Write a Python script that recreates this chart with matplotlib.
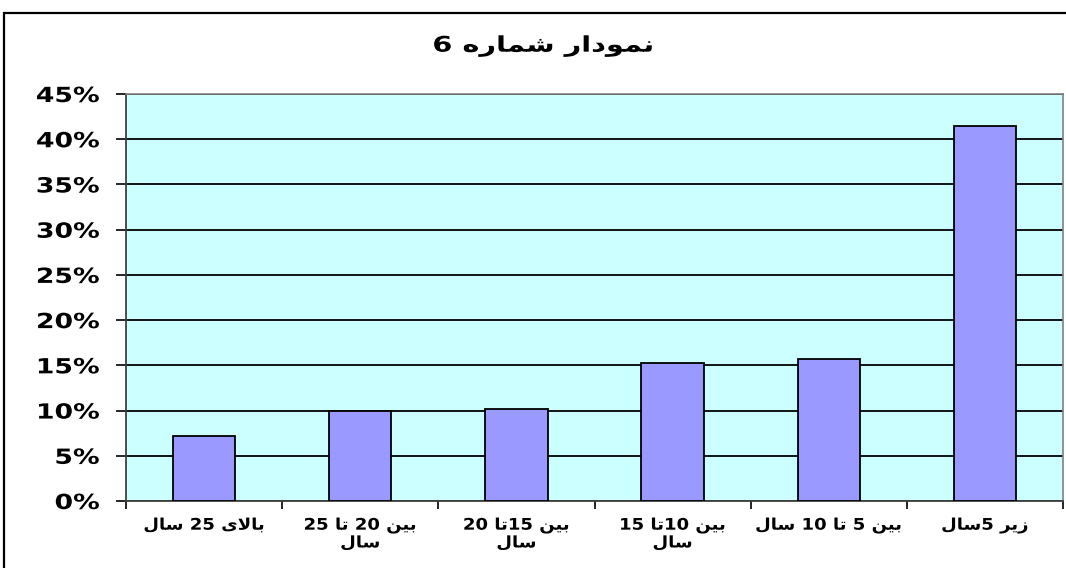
import re
import matplotlib
matplotlib.use("Agg")
import matplotlib.pyplot as plt
from matplotlib.patches import Rectangle
from matplotlib.patheffects import AbstractPathEffect
from matplotlib.transforms import Affine2D
import numpy as np

# chart data (logical Persian text, values in %)
title = "نمودار شماره 6"
categories = ["بالای 25 سال", "بین 20 تا 25\nسال", "بین 15تا 20\nسال",
              "بین 10تا 15\nسال", "بین 5 تا 10 سال", "زیر 5سال"]
values = [7.2, 9.9, 10.2, 15.3, 15.7, 41.5]
yticks = [0, 5, 10, 15, 20, 25, 30, 35, 40, 45]

# minimal Arabic/Persian shaping: presentation forms (iso, fin, ini, med)
FORMS = {
    'ا': ('\uFE8D', '\uFE8E', None, None),
    'ب': ('\uFE8F', '\uFE90', '\uFE91', '\uFE92'),
    'ت': ('\uFE95', '\uFE96', '\uFE97', '\uFE98'),
    'د': ('\uFEA9', '\uFEAA', None, None),
    'ر': ('\uFEAD', '\uFEAE', None, None),
    'ز': ('\uFEAF', '\uFEB0', None, None),
    'س': ('\uFEB1', '\uFEB2', '\uFEB3', '\uFEB4'),
    'ش': ('\uFEB5', '\uFEB6', '\uFEB7', '\uFEB8'),
    'ل': ('\uFEDD', '\uFEDE', '\uFEDF', '\uFEE0'),
    'م': ('\uFEE1', '\uFEE2', '\uFEE3', '\uFEE4'),
    'ن': ('\uFEE5', '\uFEE6', '\uFEE7', '\uFEE8'),
    'ه': ('\uFEE9', '\uFEEA', '\uFEEB', '\uFEEC'),
    'و': ('\uFEED', '\uFEEE', None, None),
    'ی': ('\uFBFC', '\uFBFD', '\uFBFE', '\uFBFF'),
}


def shape_line(s):
    out = []
    i, n = 0, len(s)
    while i < n:
        c = s[i]
        if c not in FORMS:
            out.append(c)
            i += 1
            continue
        prev = s[i - 1] if i > 0 else ''
        joins_prev = prev in FORMS and FORMS[prev][2] is not None
        if c == 'ل' and i + 1 < n and s[i + 1] == 'ا':
            out.append('\uFEFC' if joins_prev else '\uFEFB')
            i += 2
            continue
        nxt = s[i + 1] if i + 1 < n else ''
        joins_next = FORMS[c][2] is not None and nxt in FORMS
        iso, fin, ini, med = FORMS[c]
        if joins_prev and joins_next:
            out.append(med)
        elif joins_prev:
            out.append(fin)
        elif joins_next:
            out.append(ini)
        else:
            out.append(iso)
        i += 1
    tokens = re.findall(r'\d+|.', ''.join(out))
    return ''.join(reversed(tokens))


def fa(s):
    return '\n'.join(shape_line(l) for l in s.split('\n'))


class Stretch(AbstractPathEffect):
    """widen text horizontally (the reference uses wide, spaced lettering)"""
    def __init__(self, sx, anchor='center'):
        super().__init__()
        self.sx = sx
        self.anchor = anchor

    def draw_path(self, renderer, gc, tpath, affine, rgbFace=None):
        ext = tpath.get_extents()
        if self.anchor == 'right':
            cx = ext.x1
        elif self.anchor == 'left':
            cx = ext.x0
        else:
            cx = (ext.x0 + ext.x1) / 2
        t = Affine2D().translate(-cx, 0).scale(self.sx, 1).translate(cx, 0)
        renderer.draw_path(gc, tpath, t + affine, rgbFace)


FONT = ['DejaVu Sans']

fig = plt.figure(figsize=(10.66, 5.68), dpi=100)
fig.patch.set_facecolor('white')

# outer chart-area border (clipped on right and bottom like the reference)
fig.patches.append(Rectangle((4 / 1066, -0.05), 1.2, 1 - 13 / 568 + 0.05,
                             transform=fig.transFigure, fill=False,
                             edgecolor='black', linewidth=1.6))

ax = fig.add_axes([126 / 1066, 1 - 501 / 568, (1063 - 126) / 1066, (501 - 94) / 568])
ax.set_facecolor('#CCFFFF')

x = np.arange(len(categories))
ax.set_axisbelow(True)
ax.yaxis.grid(True, color='black', linewidth=1.3)
ax.bar(x, values, width=0.4, color='#9999FF', edgecolor='black', linewidth=1.3,
       zorder=3)

ax.set_xlim(-0.5, len(categories) - 0.5)
ax.set_ylim(0, 45)
ax.set_yticks(yticks)
ylabs = ax.set_yticklabels([f"{t}%" for t in yticks], family=FONT,
                           weight='bold', fontsize=15)
for t in ylabs:
    t.set_path_effects([Stretch(1.28, 'right')])
ax.tick_params(axis='y', length=7, width=1.2, direction='out', pad=12)

ax.set_xticks(x)
xlabs = ax.set_xticklabels([fa(c) for c in categories], family=FONT,
                           weight='bold', fontsize=11.5, linespacing=1.15)
for t in xlabs:
    t.set_path_effects([Stretch(1.13)])
ax.tick_params(axis='x', which='major', length=0, pad=12)
ax.set_xticks(np.arange(len(categories) + 1) - 0.5, minor=True)
ax.tick_params(axis='x', which='minor', length=6, width=1.2, direction='out')

for side in ['top', 'right']:
    ax.spines[side].set_color('#808080')
    ax.spines[side].set_linewidth(1.2)
ax.spines['left'].set_color('#404040')
ax.spines['left'].set_linewidth(1.3)
ax.spines['bottom'].set_color('#404040')
ax.spines['bottom'].set_linewidth(1.3)

ttl = fig.text(543 / 1066, 1 - 46 / 568, fa(title), family=FONT, weight='bold',
               fontsize=15.5, ha='center', va='center')
ttl.set_path_effects([Stretch(1.34)])

fig.savefig('out.png', dpi=100)
